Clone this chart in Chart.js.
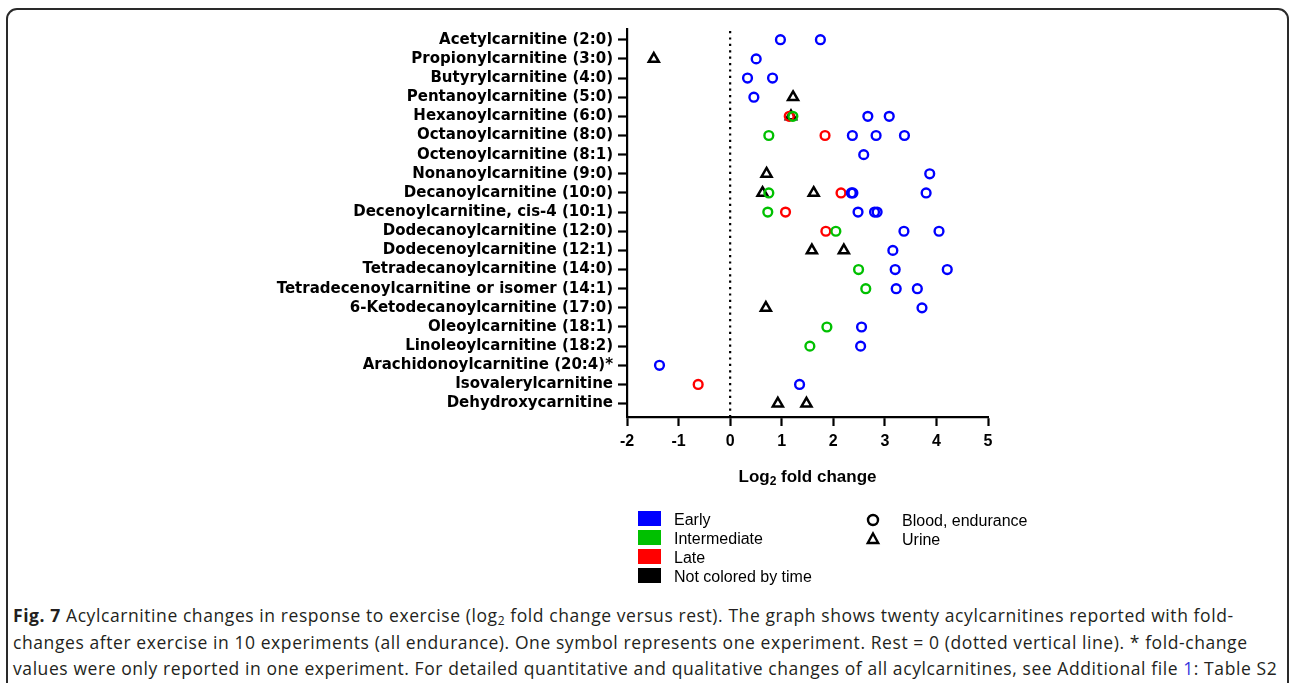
<!DOCTYPE html>
<html>
<head>
<meta charset="utf-8">
<script src="https://cdn.jsdelivr.net/npm/chart.js@4.4.1/dist/chart.umd.min.js"></script>
<style>
  html, body { margin: 0; padding: 0; background: #fff; }
  body { width: 1290px; height: 683px; position: relative; overflow: hidden; font-family: "Liberation Sans", Arial, sans-serif; }
  #frame { position: absolute; left: 6px; top: 8px; width: 1283px; height: 720px; border: 2px solid #2a2a2a; border-radius: 11px; box-sizing: border-box; }
  #chart { position: absolute; left: 0; top: 0; }
  .leg { position: absolute; font-family: "Liberation Sans", Arial, sans-serif; font-size: 16px; color: #000; line-height: 18px; }
  .sw { position: absolute; width: 23px; height: 15px; }
  #caption { position: absolute; left: 13px; top: 602px; font-family: "Open Sans", sans-serif; font-size: 17.5px; letter-spacing: 0.58px; line-height: 26.5px; color: #231f20; white-space: nowrap; }
  #caption sub { font-size: 12px; vertical-align: -3px; line-height: 0; }
  #caption a { color: #3333dd; text-decoration: none; }
</style>
</head>
<body>
<div id="frame"></div>
<canvas id="chart" width="1290" height="600"></canvas>

<div class="sw" style="left:638px; top:511px; background:#0000ff;"></div>
<div class="leg" style="left:674px; top:511px;">Early</div>
<div class="sw" style="left:638px; top:530px; background:#00c000;"></div>
<div class="leg" style="left:674px; top:530px;">Intermediate</div>
<div class="sw" style="left:638px; top:549px; background:#ff0000;"></div>
<div class="leg" style="left:674px; top:549px;">Late</div>
<div class="sw" style="left:638px; top:568px; background:#000000;"></div>
<div class="leg" style="left:674px; top:568px;">Not colored by time</div>

<svg style="position:absolute; left:864px; top:511px;" width="18" height="18"><circle cx="9" cy="9" r="5" fill="none" stroke="#000" stroke-width="2.4"/></svg>
<div class="leg" style="left:902px; top:512px;">Blood, endurance</div>
<svg style="position:absolute; left:864px; top:530px;" width="18" height="18"><polygon points="9,3.5 14.2,13 3.8,13" fill="none" stroke="#000" stroke-width="2.4" stroke-linejoin="miter"/></svg>
<div class="leg" style="left:902px; top:531px;">Urine</div>

<div id="caption"><b>Fig. 7</b> Acylcarnitine changes in response to exercise (log<sub>2</sub> fold change versus rest). The graph shows twenty acylcarnitines reported with fold-<br>changes after exercise in 10 experiments (all endurance). One symbol represents one experiment. Rest = 0 (dotted vertical line). * fold-change<br>values were only reported in one experiment. For detailed quantitative and qualitative changes of all acylcarnitines, see Additional file <a>1</a>: Table S2</div>

<script>
// ---- Data ----
const categories = [
  "Acetylcarnitine (2:0)",
  "Propionylcarnitine (3:0)",
  "Butyrylcarnitine (4:0)",
  "Pentanoylcarnitine (5:0)",
  "Hexanoylcarnitine (6:0)",
  "Octanoylcarnitine (8:0)",
  "Octenoylcarnitine (8:1)",
  "Nonanoylcarnitine (9:0)",
  "Decanoylcarnitine (10:0)",
  "Decenoylcarnitine, cis-4 (10:1)",
  "Dodecanoylcarnitine (12:0)",
  "Dodecenoylcarnitine (12:1)",
  "Tetradecanoylcarnitine (14:0)",
  "Tetradecenoylcarnitine or isomer (14:1)",
  "6-Ketodecanoylcarnitine (17:0)",
  "Oleoylcarnitine (18:1)",
  "Linoleoylcarnitine (18:2)",
  "Arachidonoylcarnitine (20:4)*",
  "Isovalerylcarnitine",
  "Dehydroxycarnitine"
];
// log2 fold changes per category (same order as categories)
const earlyBlood = [
  [0.975, 1.75], [0.505], [0.337, 0.822], [0.46], [2.67, 3.085],
  [2.37, 2.83, 3.38], [2.59], [3.87], [2.35, 2.38, 3.80], [2.48, 2.80, 2.85],
  [3.37, 4.05], [3.155], [3.20, 4.21], [3.22, 3.63], [3.72],
  [2.548], [2.53], [-1.37], [1.346], []
];
const intermediateBlood = [
  [], [], [], [], [1.216],
  [0.75], [], [], [0.75], [0.73],
  [2.05], [], [2.49], [2.63], [],
  [1.876], [1.546], [], [], []
];
const lateBlood = [
  [], [], [], [], [1.146],
  [1.84], [], [], [2.15], [1.074],
  [1.856], [], [], [], [],
  [], [], [], [-0.62], []
];
const urine = [
  [], [-1.48], [], [1.22], [1.18],
  [], [], [0.706], [0.628, 1.62], [],
  [], [1.585, 2.205], [], [], [0.693],
  [], [], [], [], [0.925, 1.48]
];
const xTicks = [-2, -1, 0, 1, 2, 3, 4, 5];

function toPoints(arr) {
  const pts = [];
  arr.forEach((vals, i) => vals.forEach(v => pts.push({ x: v, y: i })));
  return pts;
}

const zeroLine = {
  id: 'zeroLine',
  beforeDatasetsDraw(chart) {
    const { ctx, chartArea, scales } = chart;
    const x = scales.x.getPixelForValue(0);
    ctx.save();
    ctx.strokeStyle = '#000';
    ctx.lineWidth = 2.2;
    ctx.setLineDash([2.2, 4.2]);
    ctx.beginPath();
    ctx.moveTo(x, chartArea.top + 2);
    ctx.lineTo(x, chartArea.bottom);
    ctx.stroke();
    ctx.restore();
  }
};

const axisTitle = {
  id: 'axisTitle',
  afterDraw(chart) {
    const { ctx, scales } = chart;
    const cx = (scales.x.left + scales.x.right) / 2;
    const y = 477;
    ctx.save();
    ctx.fillStyle = '#000';
    ctx.textBaseline = 'middle';
    const big = 'bold 17px "Liberation Sans", Arial, sans-serif';
    const small = 'bold 12px "Liberation Sans", Arial, sans-serif';
    ctx.font = big;
    const w1 = ctx.measureText('Log').width;
    const w3 = ctx.measureText(' fold change').width;
    ctx.font = small;
    const w2 = ctx.measureText('2').width;
    let x0 = cx - (w1 + w2 + w3) / 2;
    ctx.font = big;
    ctx.textAlign = 'left';
    ctx.fillText('Log', x0, y);
    ctx.font = small;
    ctx.fillText('2', x0 + w1, y + 5);
    ctx.font = big;
    ctx.fillText(' fold change', x0 + w1 + w2, y);
    ctx.restore();
  }
};

const circleStyle = (color) => ({
  pointStyle: 'circle',
  pointRadius: 4.4,
  pointHoverRadius: 4.4,
  borderColor: color,
  backgroundColor: 'rgba(0,0,0,0)',
  borderWidth: 2.4,
  pointBorderWidth: 2.4,
  showLine: false
});

new Chart(document.getElementById('chart'), {
  type: 'scatter',
  data: {
    datasets: [
      Object.assign({ label: 'Early', data: toPoints(earlyBlood) }, circleStyle('#0000ff')),
      Object.assign({ label: 'Intermediate', data: toPoints(intermediateBlood) }, circleStyle('#00c000')),
      Object.assign({ label: 'Late', data: toPoints(lateBlood) }, circleStyle('#ff0000')),
      {
        label: 'Urine', data: toPoints(urine),
        pointStyle: 'triangle', pointRadius: 5.8, pointHoverRadius: 5.8,
        borderColor: '#000', backgroundColor: 'rgba(0,0,0,0)', borderWidth: 2.5, pointBorderWidth: 2.5, showLine: false
      }
    ]
  },
  options: {
    responsive: false,
    animation: false,
    devicePixelRatio: 1,
    layout: { padding: { left: 0, top: 29, right: 302, bottom: 123 } },
    plugins: { legend: { display: false }, tooltip: { enabled: false } },
    scales: {
      x: {
        type: 'linear',
        min: -2, max: 5,
        afterBuildTicks: (s) => { s.ticks = xTicks.map(v => ({ value: v })); },
        afterFit: (s) => { s.height = 60; },
        border: { display: true, color: '#000', width: 2.2 },
        grid: { drawOnChartArea: false, drawTicks: true, tickLength: 9, tickWidth: 2.2, tickColor: '#000' },
        ticks: { color: '#000', padding: 6, font: { family: '"Liberation Sans", Arial, sans-serif', size: 16, weight: 'bold' } }
      },
      y: {
        type: 'linear',
        reverse: true,
        min: -0.56, max: 19.7,
        afterBuildTicks: (s) => { s.ticks = categories.map((_, i) => ({ value: i })); },
        afterFit: (s) => { s.width = 627; },
        border: { display: true, color: '#000', width: 2.2 },
        grid: { drawOnChartArea: false, drawTicks: true, tickLength: 9, tickWidth: 2.2, tickColor: '#000' },
        ticks: {
          color: '#000', padding: 5, autoSkip: false,
          font: { family: '"DejaVu Sans", sans-serif', size: 15, weight: 'bold' },
          callback: (v) => categories[v] !== undefined ? categories[v] : ''
        }
      }
    }
  },
  plugins: [zeroLine, axisTitle]
});
</script>
</body>
</html>
